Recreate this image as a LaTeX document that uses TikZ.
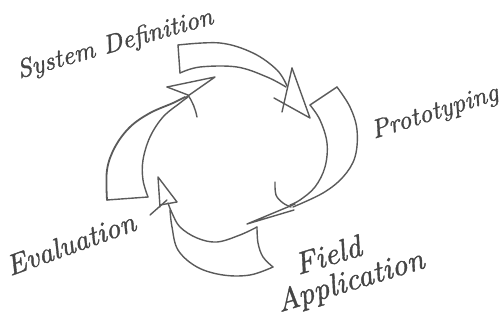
\documentclass[tikz,border=0pt]{standalone}
\usepackage{fontspec}
\newfontfamily\hand{lmroman10-italic.otf}[FakeBold=1.2]
\definecolor{ink}{HTML}{5A5A5A}
\definecolor{txt}{HTML}{454545}
\tikzset{
  sk/.style={draw=ink, line width=1.4pt, line cap=round, line join=round},
  lbl/.style={text=txt, inner sep=0pt, anchor=base}
}
\begin{document}
\begin{tikzpicture}[x=1pt,y=-1pt]
\useasboundingbox (0,0) rectangle (503,320);
% Arrow 1: System Definition -> Prototyping
\draw[sk] (178,45) -- (180,73);
\draw[sk] plot[smooth, tension=0.6] coordinates {(178,45) (220,43) (253,53) (277,70) (287,86)};
\draw[sk] plot[smooth, tension=0.6] coordinates {(180,73) (200,67) (237,67) (267,77) (286,87)};
\draw[sk] (292,68) -- (310,118) -- (274,98);
\draw[sk] (292,68) -- (282,112);
% Arrow 2: Prototyping -> Field Application
\draw[sk] (310,105) -- (337,87);
\draw[sk] plot[smooth, tension=0.6] coordinates {(337,87) (350,107) (357,130) (355,157) (343,177) (323,193) (293,207)};
\draw[sk] plot[smooth, tension=0.6] coordinates {(310,105) (320,120) (327,143) (325,167) (315,187) (300,200) (290,205)};
\draw[sk] plot[smooth, tension=0.6] coordinates {(275,182) (276,195) (283,203) (291,207)};
\draw[sk] (295,204) -- (247,224) -- (294,210);
% Arrow 3: Field Application -> Evaluation
\draw[sk] plot[smooth, tension=0.6] coordinates {(257,227) (258,243) (263,257) (273,267)};
\draw[sk] plot[smooth, tension=0.6] coordinates {(273,267) (250,275) (223,275) (197,267) (178,250) (172,227) (170,210)};
\draw[sk] plot[smooth, tension=0.6] coordinates {(257,227) (240,235) (217,242) (197,238) (180,227) (172,213) (168,203)};
\draw[sk] (160,207) -- (158,177) -- (177,202) -- (160,205);
\draw[sk] (150,215) -- (167,200);
% Arrow 4: Evaluation -> System Definition
\draw[sk] (107,200) -- (148,197);
\draw[sk, line width=1.8pt] plot[smooth, tension=0.6] coordinates {(107,200) (107,170) (115,147) (130,127) (150,113) (173,103) (185,97)};
\draw[sk] plot[smooth, tension=0.6] coordinates {(148,197) (143,180) (143,160) (150,137) (163,117) (180,103) (188,97)};
\draw[sk] (167,87) -- (215,77) -- (185,98);
\draw[sk] (167,87) -- (188,95) to[bend left=10] (197,117);
% Labels
\node[lbl, font=\hand\fontsize{26}{26}\selectfont, rotate=15.7] (sysdef) at (117,51) {System Definition};
\node[lbl, font=\hand\fontsize{26}{26}\selectfont, rotate=17.5] (proto) at (437,119) {Prototyping};
\node[lbl, font=\hand\fontsize{29}{29}\selectfont, rotate=20] (eval) at (74,253) {Evaluation};
\node[lbl, font=\hand\fontsize{31}{31}\selectfont, rotate=17] (field) at (331,265) {Field};
\node[lbl, font=\hand\fontsize{31}{31}\selectfont, rotate=17] (appl) at (353,290) {Application};
\end{tikzpicture}
\end{document}
